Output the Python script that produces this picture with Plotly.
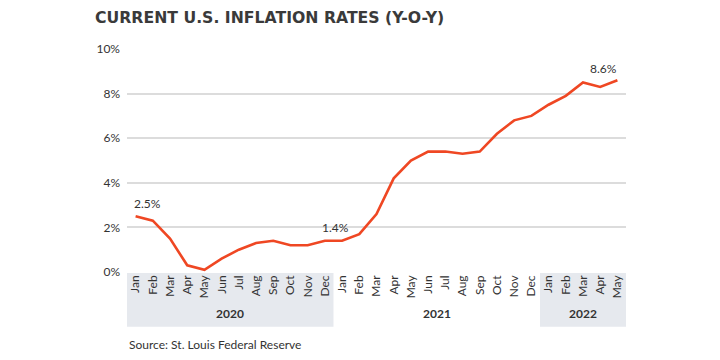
import plotly.graph_objects as go

months = ["Jan","Feb","Mar","Apr","May","Jun","Jul","Aug","Sep","Oct","Nov","Dec",
          "Jan","Feb","Mar","Apr","May","Jun","Jul","Aug","Sep","Oct","Nov","Dec",
          "Jan","Feb","Mar","Apr","May"]
inflation = [2.5, 2.3, 1.5, 0.3, 0.1, 0.6, 1.0, 1.3, 1.4, 1.2, 1.2, 1.4,
             1.4, 1.7, 2.6, 4.2, 5.0, 5.4, 5.4, 5.3, 5.4, 6.2, 6.8, 7.0,
             7.5, 7.9, 8.5, 8.3, 8.6]
years = ["2020", "2021", "2022"]
year_start = [0, 12, 24]
year_end = [11, 23, 28]
y_ticks = [0, 2, 4, 6, 8, 10]
y_tick_text = ["0%", "2%", "4%", "6%", "8%", "10%"]

x = list(range(len(months)))
FONT = "Lato"
TXT = "#333333"
PLOT_W = 499
PLOT_H = 223

fig = go.Figure()
fig.add_trace(go.Scatter(x=x, y=inflation, mode="lines",
                         line=dict(color="#ef4723", width=2.6), hoverinfo="skip"))

band_y0 = -0.245
for i, (yr, s, e) in enumerate(zip(years, year_start, year_end)):
    if i != 1:
        fig.add_shape(type="rect", xref="x", yref="paper", x0=s - 0.5, x1=e + 0.5,
                      y0=band_y0, y1=0, fillcolor="#e6e9ee", line=dict(width=0), layer="below")
    fig.add_annotation(x=(s + e) / 2, y=-0.185, xref="x", yref="paper", text="<b>%s</b>" % yr,
                       showarrow=False, font=dict(family=FONT, size=12, color=TXT), yanchor="middle")

fig.add_annotation(x=0, y=inflation[0], text="2.5%", showarrow=False, xanchor="left", xshift=-4,
                   yshift=13, font=dict(family=FONT, size=12, color=TXT))
fig.add_annotation(x=11.6, y=inflation[11], text="1.4%", showarrow=False, xanchor="center",
                   yshift=13, font=dict(family=FONT, size=12, color=TXT))
fig.add_annotation(x=28, y=inflation[28], text="8.6%", showarrow=False, xanchor="right", xshift=2,
                   yshift=12, font=dict(family=FONT, size=12, color=TXT))

fig.add_annotation(x=-34 / PLOT_W, y=1 + 32 / PLOT_H, xref="paper", yref="paper", xanchor="left", yanchor="middle",
                   text="<b>CURRENT U.S. INFLATION RATES (Y-O-Y)</b>", showarrow=False,
                   font=dict(family="DejaVu Sans", size=15.7, color="#3a3a3a"))
fig.add_annotation(x=0, y=-72 / PLOT_H, xref="paper", yref="paper", xanchor="left", yanchor="middle",
                   text="Source: St. Louis Federal Reserve", showarrow=False,
                   font=dict(family=FONT, size=12, color=TXT))

fig.update_layout(
    width=720, height=360,
    margin=dict(l=127, r=94, t=49, b=88),
    paper_bgcolor="white", plot_bgcolor="white",
    showlegend=False,
    font=dict(family=FONT, size=12, color=TXT),
    xaxis=dict(range=[-0.5, 28.5], tickvals=x, ticktext=months, tickangle=-90,
               showgrid=False, zeroline=False, showline=False, ticks="", automargin=False,
               tickfont=dict(family=FONT, size=12, color=TXT), fixedrange=True),
    yaxis=dict(range=[0, 10], tickvals=y_ticks, ticktext=y_tick_text,
               showgrid=True, gridcolor="#dcdcdc", gridwidth=1.5, automargin=False,
               zeroline=True, zerolinecolor="white", showline=False, ticks="",
               ticklabelstandoff=6, tickfont=dict(family=FONT, size=12, color=TXT), fixedrange=True),
)

# remove the default 8px page margin so the chart fills the window exactly
fig.write_html("out.html", config={"displayModeBar": False},
               post_script="document.body.style.margin='0px';")
